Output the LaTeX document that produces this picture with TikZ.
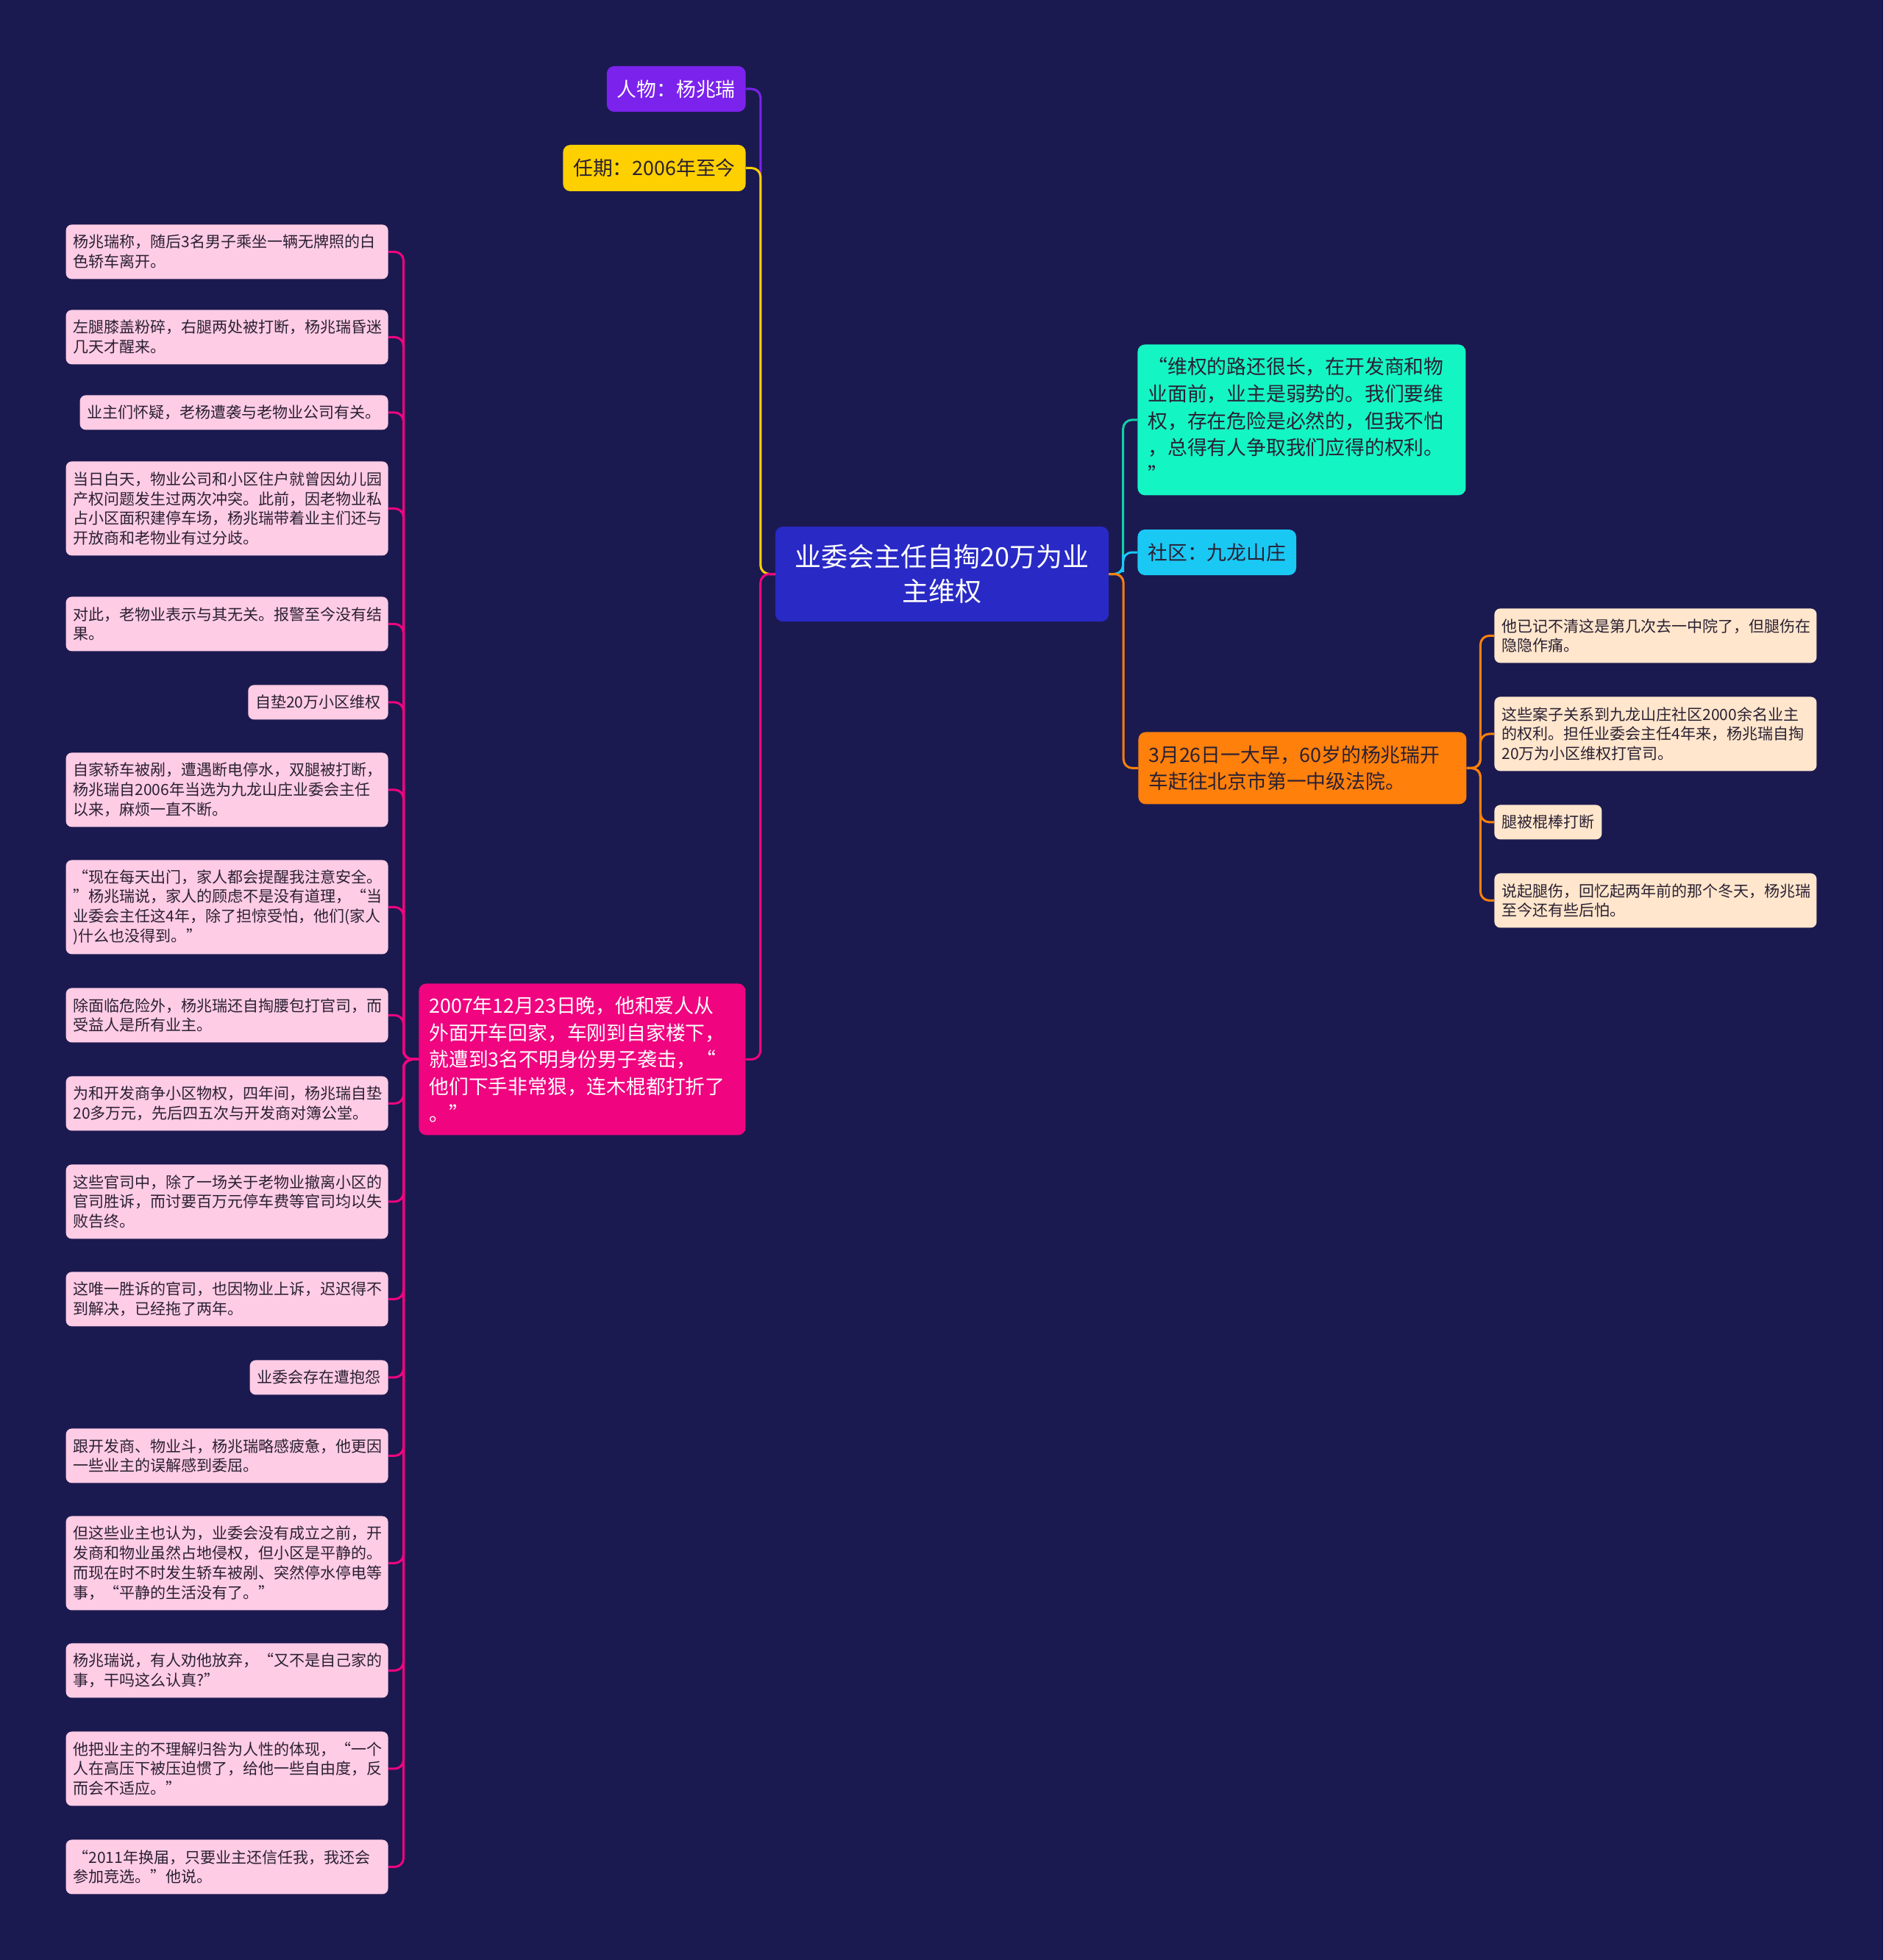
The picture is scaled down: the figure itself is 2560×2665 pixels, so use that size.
\documentclass[tikz,border=0pt]{standalone}
\usepackage{fontspec}
\setmainfont{Noto Sans CJK SC}
\usepackage{tikz}
\usetikzlibrary{calc}
\definecolor{mapnight}{HTML}{1B1A50}
\definecolor{rootblue}{HTML}{2929C6}
\definecolor{mapviolet}{HTML}{7B22EC}
\definecolor{mapyellow}{HTML}{FFD000}
\definecolor{mappink}{HTML}{F0047F}
\definecolor{leafpink}{HTML}{FFCCE5}
\definecolor{mapteal}{HTML}{14F5C4}
\definecolor{mapsky}{HTML}{1AC8F4}
\definecolor{maporange}{HTML}{FF800B}
\definecolor{leafpeach}{HTML}{FFE6CC}
\definecolor{leafink}{HTML}{2A2033}

\tikzset{
  rootbox/.style={fill=rootblue, text=white, rounded corners=5pt, align=center,
    minimum width=226.5pt, minimum height=64.5pt,
    font=\fontsize{18pt}{23.5pt}\selectfont},
  topic/.style={rounded corners=5pt, inner xsep=7pt, inner ysep=2pt, align=left,
    text=leafink, font=\fontsize{13.4pt}{18.35pt}\selectfont},
  leaf/.style={rounded corners=4pt, inner xsep=5pt, inner ysep=2pt, align=left,
    text=leafink, font=\fontsize{10.5pt}{13.4pt}\selectfont},
  pleaf/.style={leaf, fill=leafpink, text width=209pt, anchor=north east,
    minimum height=10pt+13.5pt*#1},
  ptag/.style={leaf, fill=leafpink, anchor=north east, minimum height=23.5pt},
  oleaf/.style={leaf, fill=leafpeach, text width=209pt, anchor=north west,
    minimum height=10pt+13.5pt*#1},
  otag/.style={leaf, fill=leafpeach, anchor=north west, minimum height=23.5pt},
  bough/.style={line width=1.5pt, rounded corners=6pt,
    to path={-| ($(\tikztostart)!0.5!(\tikztotarget)$) |- (\tikztotarget)}}
}

\begin{document}
\begin{tikzpicture}[x=0.5pt,y=-0.5pt]
\fill[mapnight] (0,0) rectangle (2560,2665);
\useasboundingbox (0,0) rectangle (2560,2665);

% centre
\node[rootbox] (root) at (1280.5,780.5) {业委会主任自掏20万为业\\主维权};

% left side
\node[topic, fill=mapviolet, text=white, anchor=east, minimum height=31pt] (who) at (1014,121) {人物：杨兆瑞};
\node[topic, fill=mapyellow, anchor=east, minimum height=31.5pt] (term) at (1014,228.5) {任期：2006年至今};
\node[topic, fill=mappink, text=white, anchor=north west, text width=208pt, minimum height=103pt] (night) at (569,1337)
  {2007年12月23日晚，他和爱人从\\外面开车回家，车刚到自家楼下，\\就遭到3名不明身份男子袭击，“\\他们下手非常狠，连木棍都打折了\\。”};

\node[pleaf=2] (p1) at (528,305) {杨兆瑞称，随后3名男子乘坐一辆无牌照的白\\色轿车离开。};
\node[pleaf=2] (p2) at (528,421) {左腿膝盖粉碎，右腿两处被打断，杨兆瑞昏迷\\几天才醒来。};
\node[ptag] (p3) at (528,537) {业主们怀疑，老杨遭袭与老物业公司有关。};
\node[pleaf=4] (p4) at (528,627) {当日白天，物业公司和小区住户就曾因幼儿园\\产权问题发生过两次冲突。此前，因老物业私\\占小区面积建停车场，杨兆瑞带着业主们还与\\开放商和老物业有过分歧。};
\node[pleaf=2] (p5) at (528,811) {对此，老物业表示与其无关。报警至今没有结\\果。};
\node[ptag] (p6) at (528,931) {自垫20万小区维权};
\node[pleaf=3] (p7) at (528,1023) {自家轿车被剐，遭遇断电停水，双腿被打断，\\杨兆瑞自2006年当选为九龙山庄业委会主任\\以来，麻烦一直不断。};
\node[pleaf=4] (p8) at (528,1169) {“现在每天出门，家人都会提醒我注意安全。\\”杨兆瑞说，家人的顾虑不是没有道理，“当\\业委会主任这4年，除了担惊受怕，他们(家人\\)什么也没得到。”};
\node[pleaf=2] (p9) at (528,1343) {除面临危险外，杨兆瑞还自掏腰包打官司，而\\受益人是所有业主。};
\node[pleaf=2] (p10) at (528,1463) {为和开发商争小区物权，四年间，杨兆瑞自垫\\20多万元，先后四五次与开发商对簿公堂。};
\node[pleaf=3] (p11) at (528,1583) {这些官司中，除了一场关于老物业撤离小区的\\官司胜诉，而讨要百万元停车费等官司均以失\\败告终。};
\node[pleaf=2] (p12) at (528,1729) {这唯一胜诉的官司，也因物业上诉，迟迟得不\\到解决，已经拖了两年。};
\node[ptag] (p13) at (528,1849) {业委会存在遭抱怨};
\node[pleaf=2] (p14) at (528,1942) {跟开发商、物业斗，杨兆瑞略感疲惫，他更因\\一些业主的误解感到委屈。};
\node[pleaf=4] (p15) at (528,2061) {但这些业主也认为，业委会没有成立之前，开\\发商和物业虽然占地侵权，但小区是平静的。\\而现在时不时发生轿车被剐、突然停水停电等\\事，“平静的生活没有了。”};
\node[pleaf=2] (p16) at (528,2234) {杨兆瑞说，有人劝他放弃，“又不是自己家的\\事，干吗这么认真?”};
\node[pleaf=3] (p17) at (528,2354) {他把业主的不理解归咎为人性的体现，“一个\\人在高压下被压迫惯了，给他一些自由度，反\\而会不适应。”};
\node[pleaf=2] (p18) at (528,2501) {“2011年换届，只要业主还信任我，我还会\\参加竞选。”他说。};

% right side
\node[topic, fill=mapteal, anchor=north west, text width=209pt, minimum height=102.5pt] (quote) at (1546,468)
  {“维权的路还很长，在开发商和物\\业面前，业主是弱势的。我们要维\\权，存在危险是必然的，但我不怕\\，总得有人争取我们应得的权利。\\”};
\node[topic, fill=mapsky, anchor=west, minimum height=31pt] (area) at (1546,751) {社区：九龙山庄};
\node[topic, fill=maporange, anchor=north west, text width=209pt, minimum height=49pt] (court) at (1547,995)
  {3月26日一大早，60岁的杨兆瑞开\\车赶往北京市第一中级法院。};

\node[oleaf=2] (o1) at (2031,827) {他已记不清这是第几次去一中院了，但腿伤在\\隐隐作痛。};
\node[oleaf=3] (o2) at (2031,947) {这些案子关系到九龙山庄社区2000余名业主\\的权利。担任业委会主任4年来，杨兆瑞自掏\\20万为小区维权打官司。};
\node[otag] (o3) at (2031,1094) {腿被棍棒打断};
\node[oleaf=2] (o4) at (2031,1187) {说起腿伤，回忆起两年前的那个冬天，杨兆瑞\\至今还有些后怕。};

% connectors
\draw[bough, mapviolet] (root.west) to (who.east);
\draw[bough, mapyellow] (root.west) to (term.east);
\draw[bough, mappink] (root.west) to (night.east);
\foreach \k in {1,...,18}
  \draw[bough, mappink] (night.west) to (p\k.east);
\draw[bough, mapteal!85!black] (root.east) to (quote.west);
\draw[bough, mapsky] (root.east) to (area.west);
\draw[bough, maporange] (root.east) to (court.west);
\foreach \k in {1,...,4}
  \draw[bough, maporange] (court.east) to (o\k.west);
\end{tikzpicture}
\end{document}
